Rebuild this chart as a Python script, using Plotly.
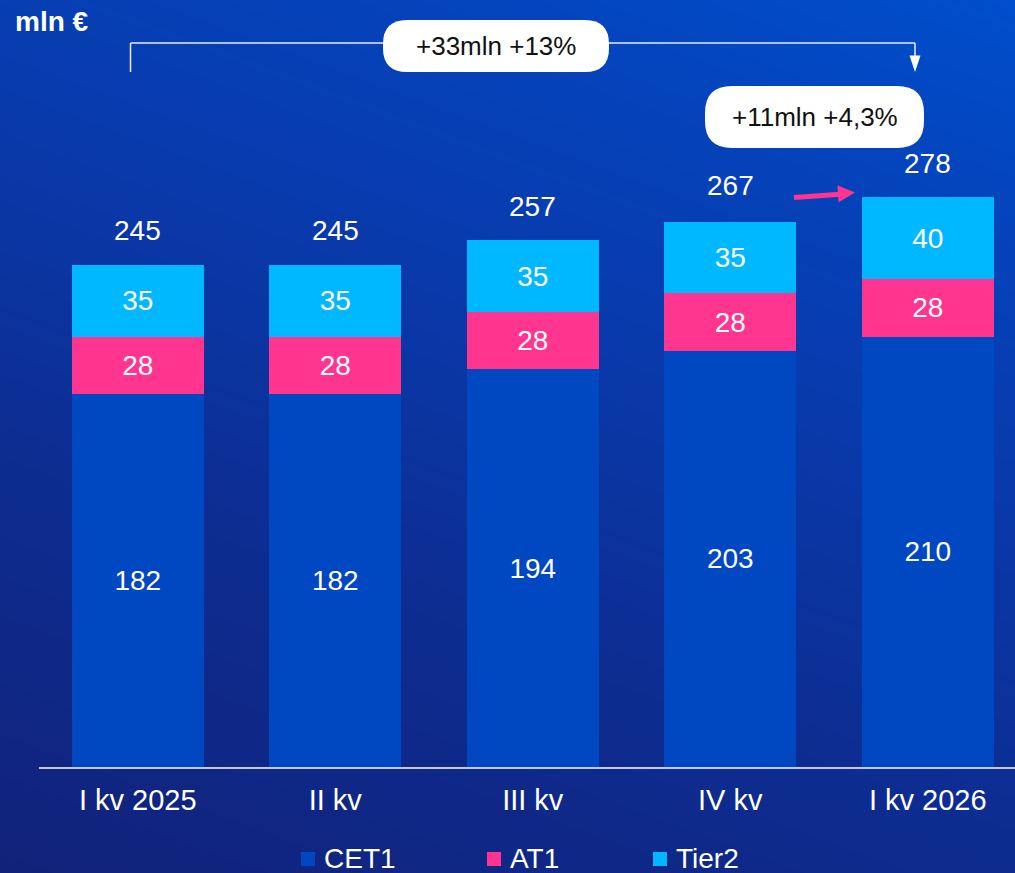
import numpy as np
import plotly.graph_objects as go

# ---------------- data ----------------
categories = ["I kv 2025", "II kv", "III kv", "IV kv", "I kv 2026"]
cet1 = [182, 182, 194, 203, 210]
at1 = [28, 28, 28, 28, 28]
tier2 = [35, 35, 35, 35, 40]
totals = [245, 245, 257, 267, 278]
series_names = ["CET1", "AT1", "Tier2"]
series_colors = ["#0047C2", "#FF358F", "#00B8FF"]
unit_label = "mln €"
change_total = "+33mln +13%"
change_quarter = "+11mln +4,3%"

W, H = 1015, 873
FONT = "Liberation Sans, Arial, sans-serif"


def px(x):
    return x / W


def py(y):
    return 1 - y / H


fig = go.Figure()

# ---- gradient background (heatmap on a full-page hidden axis) ----
gx = np.linspace(0, 1, 12)
gy = np.linspace(0, 1, 12)
gz = [[0.3 * xv + 0.7 * yv for xv in gx] for yv in gy]
fig.add_trace(go.Heatmap(
    x=gx, y=gy, z=gz, zsmooth="best", showscale=False, hoverinfo="skip",
    zmin=0, zmax=1,
    colorscale=[[0.0, "#11227A"], [0.35, "#0D2D92"], [0.55, "#0A37A6"],
                [0.8, "#0542BA"], [1.0, "#004ECC"]],
    xaxis="x", yaxis="y",
))

# ---- stacked bars ----
for name, vals, col in zip(series_names, [cet1, at1, tier2], series_colors):
    fig.add_trace(go.Bar(
        x=categories, y=vals, name=name, marker=dict(color=col, line=dict(width=0)),
        width=0.668, text=vals, texttemplate="%{text}", textposition="inside",
        insidetextanchor="middle", textangle=0,
        textfont=dict(color="white", size=28, family=FONT),
        xaxis="x2", yaxis="y2", showlegend=False, hoverinfo="skip",
    ))

ymax = 767 / 2.05
fig.update_layout(
    width=W, height=H,
    margin=dict(l=0, r=0, t=0, b=0),
    paper_bgcolor="#0D2A8C",
    plot_bgcolor="rgba(0,0,0,0)",
    barmode="stack",
    bargap=0.33,
    font=dict(family=FONT, color="white", size=28),
    xaxis=dict(domain=[0, 1], range=[0, 1], visible=False, fixedrange=True),
    yaxis=dict(domain=[0, 1], range=[0, 1], visible=False, fixedrange=True),
    xaxis2=dict(domain=[px(39), 1], range=[-0.5, -0.5 + 976 / 197.5], anchor="y2",
                type="category", showline=True, linecolor="#C4C8DA", linewidth=2,
                showgrid=False, zeroline=False, ticks="",
                ticklabelstandoff=6,
                tickfont=dict(color="white", size=29, family=FONT)),
    yaxis2=dict(domain=[1 - 767 / H, 1], range=[0, ymax], anchor="x2",
                visible=False, showgrid=False, zeroline=False),
)

annotations = []
# totals above bars
for c, t in zip(categories, totals):
    annotations.append(dict(x=c, y=t, xref="x2", yref="y2", text=str(t), showarrow=False,
                            yshift=34, xanchor="center", yanchor="middle",
                            font=dict(color="white", size=28, family=FONT)))

# unit label
annotations.append(dict(x=px(13), y=py(21), xref="paper", yref="paper", text=f"<b>{unit_label}</b>",
                        showarrow=False, xanchor="left", yanchor="middle",
                        font=dict(color="white", size=28, family=FONT)))

shapes = []
line_col = "#E8ECF6"
# bracket
shapes.append(dict(type="line", xref="paper", yref="paper", x0=px(130.5), x1=px(130.5),
                   y0=py(43), y1=py(72), line=dict(color=line_col, width=1.5)))
shapes.append(dict(type="line", xref="paper", yref="paper", x0=px(130.5), x1=px(915),
                   y0=py(43), y1=py(43), line=dict(color=line_col, width=1.5)))
shapes.append(dict(type="line", xref="paper", yref="paper", x0=px(915), x1=px(915),
                   y0=py(43), y1=py(57), line=dict(color=line_col, width=1.5)))
shapes.append(dict(type="path", xref="paper", yref="paper",
                   path=f"M{px(909.5)},{py(55.5)} L{px(920.5)},{py(55.5)} L{px(915)},{py(72)} Z",
                   fillcolor="white", line=dict(width=0)))


def pill(x0, y0, x1, y1, r):
    p = (f"M{px(x0 + r)},{py(y0)} L{px(x1 - r)},{py(y0)} "
         f"Q{px(x1)},{py(y0)} {px(x1)},{py(y0 + r)} "
         f"L{px(x1)},{py(y1 - r)} Q{px(x1)},{py(y1)} {px(x1 - r)},{py(y1)} "
         f"L{px(x0 + r)},{py(y1)} Q{px(x0)},{py(y1)} {px(x0)},{py(y1 - r)} "
         f"L{px(x0)},{py(y0 + r)} Q{px(x0)},{py(y0)} {px(x0 + r)},{py(y0)} Z")
    return dict(type="path", xref="paper", yref="paper", path=p,
                fillcolor="white", line=dict(width=0))


shapes.append(pill(383, 20, 609, 72, 24))
shapes.append(pill(705, 86, 924, 148, 27))
annotations.append(dict(x=px(496), y=py(46), xref="paper", yref="paper", text=change_total,
                        showarrow=False, xanchor="center", yanchor="middle",
                        font=dict(color="#111111", size=26, family=FONT)))
annotations.append(dict(x=px(814.5), y=py(117), xref="paper", yref="paper", text=change_quarter,
                        showarrow=False, xanchor="center", yanchor="middle",
                        font=dict(color="#111111", size=26, family=FONT)))

# pink arrow
shapes.append(dict(type="line", xref="paper", yref="paper", x0=px(794), y0=py(197.5),
                   x1=px(840), y1=py(194.2), line=dict(color="#FF358F", width=5)))
shapes.append(dict(type="path", xref="paper", yref="paper",
                   path=f"M{px(855)},{py(192.5)} L{px(838.6)},{py(202.3)} L{px(837.4)},{py(185.3)} Z",
                   fillcolor="#FF358F", line=dict(width=0)))

# legend (manual)
leg_sq = [301, 487, 653]
for name, col, xs in zip(series_names, series_colors, leg_sq):
    shapes.append(dict(type="rect", xref="paper", yref="paper", x0=px(xs), x1=px(xs + 14),
                       y0=py(852), y1=py(866), fillcolor=col, line=dict(width=0)))
    annotations.append(dict(x=px(xs + 21), y=py(858), xref="paper", yref="paper", text=name,
                            showarrow=False, xanchor="left", yanchor="middle",
                            font=dict(color="white", size=28, family=FONT)))

fig.update_layout(shapes=shapes, annotations=annotations)
fig.write_html("out.html", config={"displayModeBar": False},
               post_script="document.body.style.margin='0';document.body.style.overflow='hidden';")
